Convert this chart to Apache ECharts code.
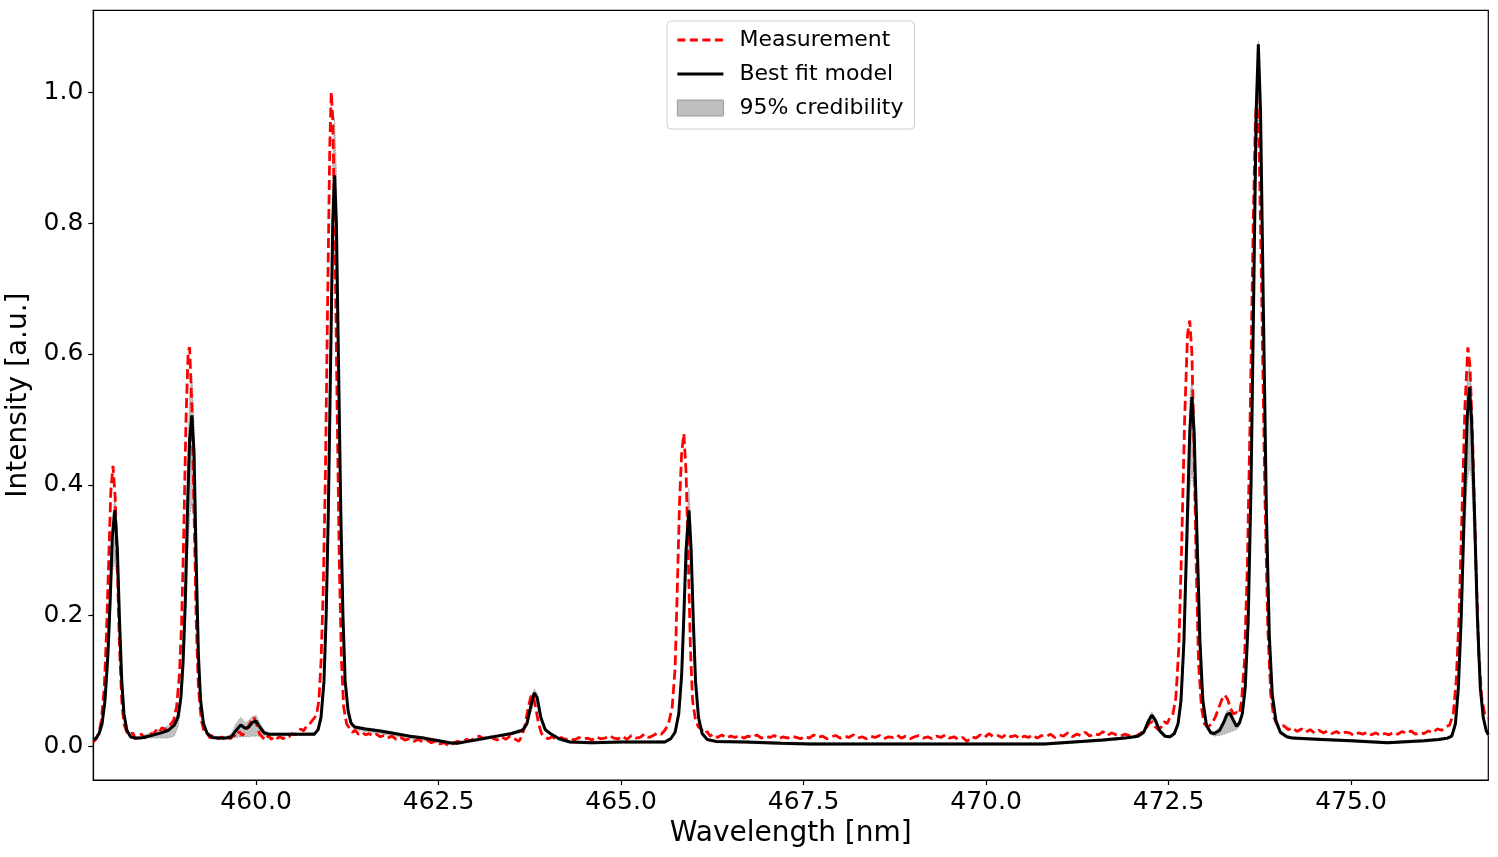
<!DOCTYPE html>
<html><head><meta charset="utf-8">
<script src="https://cdn.jsdelivr.net/npm/echarts@6.0.0/dist/echarts.min.js"></script>
<style>html,body{margin:0;padding:0;background:#fff}#chart{width:1498px;height:857px}</style>
</head><body><div id="chart"></div>
<script>
// ---- tick labels ----
const xTicks = [460.0, 462.5, 465.0, 467.5, 470.0, 472.5, 475.0];
const yTicks = [0.0, 0.2, 0.4, 0.6, 0.8, 1.0];
const seriesNames = ['Measurement', 'Best fit model', '95% credibility'];

// ---- best fit model + 95% credibility band (same wavelength grid) ----
const modelX = [
457.77,457.81,457.85,457.89,457.93,457.97,458.00,458.03,458.065,458.10,458.13,458.16,458.19,458.23,458.28,458.34,
458.42,458.50,458.60,458.70,458.80,458.88,458.93,458.97,459.00,459.03,459.06,459.09,459.12,459.15,459.18,459.21,459.24,459.28,459.33,459.40,
459.48,459.58,459.66,459.72,459.79,459.85,459.90,459.95,460.00,460.05,460.11,460.18,460.40,460.60,460.80,
460.85,460.89,460.93,460.96,460.99,461.02,461.05,461.075,461.10,461.13,461.16,461.19,461.22,461.26,461.30,461.35,
461.50,461.70,461.90,462.10,462.30,462.50,462.65,462.75,462.90,463.10,463.30,463.50,463.65,
463.71,463.76,463.81,463.85,463.90,463.96,464.03,464.15,464.30,464.60,465.00,465.40,465.60,
465.68,465.74,465.79,465.83,465.86,465.89,465.93,465.96,465.99,466.02,466.06,466.11,466.18,466.30,
466.70,467.20,467.60,468.50,469.50,470.40,470.80,471.20,471.60,471.90,
472.08,472.16,472.22,472.27,472.32,472.38,472.45,472.52,472.58,472.63,472.67,
472.71,472.75,472.79,472.82,472.85,472.89,472.93,472.97,473.02,473.08,473.13,
473.20,473.26,473.30,473.34,473.38,473.43,473.47,473.51,473.55,473.59,473.63,473.67,473.70,473.73,473.76,473.80,473.84,473.88,473.92,473.97,
474.03,474.12,474.20,474.60,475.00,475.50,476.00,476.20,476.32,476.38,
476.43,476.47,476.51,476.55,476.59,476.62,476.65,476.69,476.73,476.77,476.81,476.85,476.88
];
const bestFit = [
0.010,0.013,0.020,0.035,0.070,0.140,0.220,0.320,0.361,0.300,0.190,0.100,0.050,0.025,0.015,0.013,
0.013,0.015,0.018,0.021,0.025,0.033,0.045,0.075,0.130,0.220,0.360,0.470,0.506,0.450,0.280,0.140,0.070,0.035,0.020,0.014,
0.013,0.013,0.015,0.024,0.033,0.028,0.030,0.037,0.039,0.030,0.021,0.019,0.019,0.019,0.019,
0.026,0.045,0.100,0.200,0.360,0.580,0.800,0.873,0.800,0.580,0.360,0.200,0.100,0.055,0.036,0.030,
0.027,0.024,0.020,0.016,0.013,0.009,0.006,0.005,0.008,0.012,0.016,0.020,0.025,
0.035,0.060,0.082,0.075,0.045,0.026,0.020,0.012,0.007,0.006,0.007,0.007,0.007,
0.012,0.022,0.050,0.110,0.200,0.300,0.361,0.300,0.190,0.100,0.045,0.020,0.011,0.008,
0.007,0.005,0.004,0.004,0.004,0.004,0.004,0.007,0.010,0.013,
0.016,0.022,0.038,0.048,0.040,0.024,0.016,0.015,0.020,0.035,0.070,
0.160,0.320,0.480,0.534,0.480,0.320,0.160,0.070,0.032,0.021,0.020,
0.025,0.038,0.049,0.051,0.042,0.031,0.036,0.050,0.090,0.190,0.400,0.720,0.970,1.073,0.970,0.660,0.360,0.170,0.080,0.040,
0.022,0.015,0.013,0.011,0.009,0.006,0.009,0.011,0.013,0.016,
0.035,0.090,0.200,0.360,0.500,0.549,0.500,0.360,0.200,0.090,0.045,0.025,0.018
];
const bandLow = [
0.008,0.011,0.018,0.031,0.062,0.120,0.190,0.265,0.285,0.250,0.160,0.085,0.043,0.022,0.013,0.011,
0.012,0.013,0.013,0.013,0.013,0.016,0.030,0.060,0.100,0.170,0.280,0.350,0.372,0.340,0.230,0.120,0.060,0.030,0.017,0.012,
0.011,0.011,0.012,0.014,0.015,0.015,0.015,0.016,0.016,0.016,0.016,0.016,0.017,0.017,0.017,
0.023,0.040,0.090,0.180,0.320,0.510,0.700,0.760,0.700,0.510,0.320,0.180,0.090,0.050,0.032,0.026,
0.023,0.020,0.016,0.012,0.009,0.005,0.003,0.003,0.006,0.010,0.014,0.018,0.022,
0.030,0.050,0.068,0.064,0.040,0.023,0.018,0.010,0.005,0.004,0.005,0.005,0.005,
0.010,0.019,0.044,0.095,0.170,0.260,0.300,0.260,0.165,0.088,0.040,0.018,0.009,0.006,
0.005,0.003,0.002,0.002,0.002,0.002,0.002,0.005,0.008,0.011,
0.014,0.019,0.033,0.041,0.035,0.021,0.014,0.013,0.017,0.030,0.060,
0.130,0.260,0.390,0.420,0.390,0.260,0.130,0.060,0.028,0.018,0.016,
0.017,0.019,0.021,0.022,0.024,0.026,0.030,0.044,0.080,0.170,0.360,0.650,0.880,0.970,0.880,0.600,0.330,0.150,0.070,0.036,
0.019,0.013,0.011,0.009,0.007,0.004,0.007,0.009,0.011,0.014,
0.030,0.080,0.170,0.300,0.400,0.427,0.410,0.300,0.170,0.080,0.040,0.022,0.016
];
const bandHigh = [
0.012,0.015,0.023,0.040,0.078,0.155,0.240,0.350,0.381,0.330,0.210,0.110,0.056,0.028,0.017,0.015,
0.016,0.019,0.023,0.027,0.032,0.038,0.052,0.085,0.150,0.260,0.430,0.540,0.567,0.500,0.320,0.160,0.080,0.040,0.023,0.016,
0.015,0.015,0.019,0.034,0.045,0.036,0.040,0.046,0.048,0.036,0.025,0.021,0.021,0.021,0.022,
0.030,0.050,0.110,0.220,0.400,0.640,0.890,0.961,0.880,0.640,0.400,0.220,0.110,0.060,0.040,0.032,
0.029,0.026,0.022,0.018,0.015,0.011,0.008,0.007,0.010,0.014,0.018,0.022,0.028,
0.040,0.068,0.088,0.082,0.050,0.029,0.022,0.014,0.009,0.008,0.009,0.009,0.009,
0.014,0.025,0.056,0.125,0.225,0.330,0.395,0.330,0.210,0.110,0.050,0.022,0.013,0.010,
0.009,0.007,0.006,0.006,0.006,0.006,0.006,0.009,0.012,0.015,
0.018,0.025,0.043,0.053,0.045,0.027,0.018,0.017,0.023,0.040,0.080,
0.180,0.350,0.530,0.567,0.520,0.350,0.180,0.080,0.036,0.024,0.023,
0.029,0.044,0.055,0.056,0.048,0.035,0.040,0.055,0.100,0.210,0.430,0.760,1.000,1.078,1.000,0.700,0.390,0.185,0.088,0.044,
0.025,0.017,0.015,0.013,0.011,0.008,0.011,0.013,0.015,0.019,
0.040,0.100,0.220,0.400,0.560,0.580,0.550,0.390,0.220,0.100,0.050,0.028,0.020
];

// ---- measurement [wavelength, intensity] ----
const measurement = [
[457.77,0.007],[457.81,0.012],[457.85,0.022],[457.88,0.04],[457.92,0.09],[457.95,0.17],[457.98,0.28],[458.01,0.39],[458.04,0.429],[458.07,0.38],[458.10,0.27],[458.13,0.15],[458.16,0.07],[458.19,0.035],[458.23,0.022],[458.27,0.018],[458.31,0.021],[458.35,0.012],[458.39,0.017],[458.43,0.019],[458.47,0.013],[458.51,0.017],[458.55,0.021],[458.59,0.018],[458.63,0.025],[458.67,0.021],[458.71,0.029],[458.75,0.026],[458.79,0.031],[458.83,0.034],
[458.87,0.04],[458.91,0.06],[458.95,0.11],[458.98,0.19],[459.01,0.33],[459.04,0.5],[459.07,0.605],[459.09,0.61],[459.12,0.52],[459.15,0.36],[459.18,0.19],[459.21,0.09],[459.25,0.04],[459.29,0.022],[459.33,0.02],[459.37,0.013],[459.41,0.018],[459.45,0.016],[459.49,0.012],[459.53,0.015],[459.57,0.011],[459.61,0.014],[459.65,0.012],[459.69,0.018],[459.73,0.015],[459.77,0.023],[459.81,0.017],[459.85,0.022],[459.89,0.03],[459.93,0.038],[459.97,0.045],[460.01,0.033],[460.05,0.019],[460.09,0.014],[460.13,0.01],[460.17,0.017],[460.21,0.011],[460.25,0.016],[460.29,0.013],[460.33,0.015],[460.37,0.012],[460.41,0.016],[460.45,0.015],[460.49,0.02],[460.53,0.018],[460.57,0.022],[460.61,0.027],[460.65,0.024],[460.69,0.031],[460.73,0.034],[460.77,0.04],[460.80,0.044],
[460.83,0.05],[460.86,0.07],[460.89,0.13],[460.92,0.24],[460.95,0.42],[460.98,0.68],[461.01,0.92],[461.03,1.0],[461.05,0.96],[461.08,0.78],[461.11,0.52],[461.14,0.28],[461.17,0.13],[461.20,0.06],[461.24,0.035],[461.28,0.028],[461.32,0.022],[461.36,0.025],[461.40,0.019],[461.45,0.022],[461.50,0.018],[461.55,0.02],[461.60,0.016],[461.65,0.019],[461.70,0.015],[461.75,0.017],[461.80,0.013],[461.86,0.016],[461.92,0.011],[461.98,0.014],[462.04,0.01],[462.10,0.012],[462.16,0.008],[462.22,0.011],[462.28,0.007],[462.34,0.01],[462.40,0.006],[462.46,0.008],[462.52,0.004],[462.58,0.006],[462.64,0.001],[462.70,0.005],[462.76,0.008],[462.82,0.006],[462.88,0.011],[462.94,0.009],[463.00,0.014],[463.06,0.016],[463.12,0.012],[463.18,0.017],[463.24,0.013],[463.30,0.01],[463.36,0.015],[463.42,0.011],[463.48,0.016],[463.54,0.012],[463.60,0.008],[463.64,0.016],[463.68,0.03],[463.72,0.055],[463.76,0.075],[463.79,0.08],[463.83,0.06],[463.87,0.035],[463.91,0.02],[463.95,0.015],
[464.00,0.012],[464.06,0.015],[464.12,0.01],[464.18,0.014],[464.24,0.011],[464.30,0.013],[464.36,0.01],[464.42,0.014],[464.48,0.011],[464.54,0.013],[464.60,0.01],[464.66,0.015],[464.72,0.012],[464.78,0.013],[464.84,0.017],[464.90,0.013],[464.96,0.012],[465.02,0.016],[465.08,0.011],[465.14,0.017],[465.20,0.013],[465.26,0.014],[465.32,0.019],[465.38,0.014],[465.44,0.017],[465.50,0.021],[465.55,0.019],[465.60,0.025],[465.65,0.035],[465.70,0.06],[465.74,0.12],[465.77,0.24],[465.80,0.37],[465.83,0.45],[465.86,0.478],[465.89,0.42],[465.92,0.29],[465.95,0.15],[465.98,0.07],[466.02,0.04],[466.06,0.03],[466.10,0.027],[466.14,0.02],[466.18,0.023],[466.22,0.016],
[466.26,0.019],[466.32,0.014],[466.38,0.018],[466.44,0.013],[466.50,0.016],[466.56,0.014],[466.62,0.017],[466.68,0.013],[466.74,0.016],[466.80,0.014],[466.86,0.018],[466.92,0.013],[466.98,0.016],[467.04,0.014],[467.10,0.017],[467.16,0.012],[467.22,0.015],[467.28,0.013],[467.34,0.016],[467.40,0.014],[467.46,0.012],[467.52,0.016],[467.58,0.013],[467.64,0.018],[467.70,0.014],[467.76,0.016],[467.82,0.012],[467.88,0.015],[467.94,0.017],[468.00,0.013],[468.06,0.016],[468.12,0.014],[468.18,0.018],[468.24,0.013],[468.30,0.015],[468.36,0.012],[468.42,0.016],[468.48,0.014],[468.54,0.017],[468.60,0.012],[468.66,0.015],[468.72,0.014],[468.78,0.018],[468.84,0.013],[468.90,0.016],[468.96,0.012],[469.02,0.015],[469.08,0.017],[469.14,0.013],[469.20,0.015],[469.26,0.012],[469.32,0.016],[469.38,0.014],[469.44,0.018],[469.50,0.013],[469.56,0.015],[469.62,0.011],[469.68,0.014],[469.74,0.008],[469.80,0.015],[469.86,0.013],[469.92,0.018],[469.98,0.014],
[470.04,0.02],[470.10,0.015],[470.16,0.017],[470.22,0.014],[470.28,0.019],[470.34,0.015],[470.40,0.017],[470.46,0.012],[470.52,0.016],[470.58,0.014],[470.64,0.018],[470.70,0.013],[470.76,0.017],[470.82,0.015],[470.88,0.019],[470.94,0.014],[471.00,0.018],[471.06,0.016],[471.12,0.021],[471.18,0.015],[471.24,0.019],[471.30,0.017],[471.36,0.022],[471.42,0.016],[471.48,0.02],[471.54,0.018],[471.60,0.023],[471.66,0.017],[471.72,0.021],[471.78,0.018],[471.84,0.016],[471.90,0.019],[471.96,0.017],[472.02,0.014],[472.08,0.018],[472.14,0.022],[472.19,0.028],[472.24,0.036],[472.28,0.038],[472.32,0.03],[472.36,0.026],[472.40,0.03],[472.44,0.038],[472.48,0.035],[472.52,0.045],[472.56,0.05],
[472.60,0.075],[472.64,0.15],[472.68,0.31],[472.72,0.5],[472.76,0.63],[472.79,0.651],[472.82,0.6],[472.85,0.45],[472.88,0.27],[472.91,0.13],[472.95,0.06],[472.99,0.035],[473.04,0.03],[473.09,0.035],[473.14,0.045],[473.19,0.06],[473.23,0.072],[473.27,0.079],[473.31,0.072],[473.35,0.058],[473.39,0.05],[473.43,0.052],[473.47,0.05],[473.50,0.07],[473.54,0.13],[473.58,0.28],[473.62,0.52],[473.66,0.8],[473.69,0.96],[473.71,0.99],[473.74,0.92],[473.78,0.66],[473.82,0.38],[473.86,0.18],[473.90,0.08],[473.94,0.045],[473.98,0.035],
[474.02,0.03],[474.08,0.032],[474.14,0.026],[474.20,0.029],[474.26,0.023],[474.32,0.027],[474.38,0.022],[474.44,0.026],[474.50,0.021],[474.56,0.025],[474.62,0.021],[474.68,0.024],[474.74,0.02],[474.80,0.023],[474.86,0.019],[474.92,0.022],[474.98,0.021],[475.04,0.017],[475.10,0.021],[475.16,0.019],[475.22,0.022],[475.28,0.018],[475.34,0.021],[475.40,0.017],[475.46,0.02],[475.52,0.018],[475.58,0.022],[475.64,0.019],[475.70,0.023],[475.76,0.02],[475.82,0.024],[475.88,0.019],[475.94,0.021],[476.00,0.02],[476.06,0.024],[476.12,0.021],[476.18,0.027],[476.24,0.025],[476.30,0.03],[476.35,0.033],
[476.40,0.05],[476.44,0.1],[476.48,0.2],[476.52,0.36],[476.56,0.52],[476.60,0.61],[476.63,0.58],[476.67,0.45],[476.71,0.28],[476.75,0.14],[476.79,0.075],[476.83,0.05],[476.88,0.043]
];

const FONT = 'DejaVu Sans';
const chart = echarts.init(document.getElementById('chart'));
const modelData = modelX.map((x, i) => [x, bestFit[i]]);
const noSymbol = { color: 'rgba(0,0,0,0)', borderWidth: 0, opacity: 0 };

const option = {
  animation: false,
  backgroundColor: '#fff',
  grid: { left: 93.3, right: 9.7, top: 10.3, bottom: 77, show: true, borderColor: '#000', borderWidth: 1.2, backgroundColor: 'transparent', containLabel: false, outerBoundsMode: 'none' },
  legend: {
    orient: 'vertical', left: 667, top: 21,
    padding: [7, 11, 9, 9], itemGap: 10, itemWidth: 46, itemHeight: 16,
    backgroundColor: '#fff', borderColor: '#d0d0d0', borderWidth: 1, borderRadius: 4,
    textStyle: { fontFamily: FONT, fontSize: 22, color: '#000', lineHeight: 24, padding: [0, 0, 0, 11] },
    data: [
      { name: seriesNames[0], itemStyle: noSymbol, lineStyle: { width: 2.8, type: [8, 4.5], color: '#ff0000' } },
      { name: seriesNames[1], itemStyle: noSymbol, lineStyle: { width: 2.8, color: '#000' } },
      { name: seriesNames[2], icon: 'rect', itemStyle: { color: '#bfbfbf', borderColor: '#9a9a9a', borderWidth: 1 } }
    ]
  },
  xAxis: {
    type: 'value', min: 457.77, max: 476.88,
    name: 'Wavelength [nm]', nameLocation: 'middle', nameGap: 39,
    nameTextStyle: { fontFamily: FONT, fontSize: 28, color: '#000' },
    axisLine: { show: true, onZero: false, lineStyle: { color: '#000', width: 1.2 } },
    axisTick: { show: true, inside: false, length: 5, lineStyle: { color: '#000', width: 1.2 }, customValues: xTicks },
    axisLabel: { fontFamily: FONT, fontSize: 25, color: '#000', margin: 10, customValues: xTicks, formatter: v => v.toFixed(1) },
    splitLine: { show: false }
  },
  yAxis: {
    type: 'value', min: -0.051, max: 1.125,
    name: 'Intensity [a.u.]', nameLocation: 'middle', nameGap: 55,
    nameTextStyle: { fontFamily: FONT, fontSize: 28, color: '#000' },
    axisLine: { show: true, onZero: false, lineStyle: { color: '#000', width: 1.2 } },
    axisTick: { show: true, inside: false, length: 5, lineStyle: { color: '#000', width: 1.2 }, customValues: yTicks },
    axisLabel: { fontFamily: FONT, fontSize: 25, color: '#000', margin: 10, customValues: yTicks, formatter: v => v.toFixed(1) },
    splitLine: { show: false }
  },
  series: [
    {
      name: seriesNames[2], type: 'custom', coordinateSystem: 'cartesian2d',
      itemStyle: { color: '#bfbfbf', borderColor: '#9a9a9a' },
      data: [[modelX[0], bandLow[0]]],
      encode: { x: 0, y: 1 },
      renderItem: function (params, api) {
        const pts = [];
        for (let i = 0; i < modelX.length; i++) pts.push(api.coord([modelX[i], bandHigh[i]]));
        for (let i = modelX.length - 1; i >= 0; i--) pts.push(api.coord([modelX[i], bandLow[i]]));
        return { type: 'polygon', shape: { points: pts }, style: { fill: '#c0c0c0', stroke: 'rgba(110,110,110,0.7)', lineWidth: 0.8, lineDash: [1.5, 1.5] } };
      },
      z: 1
    },
    {
      name: seriesNames[0], type: 'line', data: measurement, showSymbol: false, symbol: 'none',
      lineStyle: { color: '#ff0000', width: 2.8, type: [10, 4.5] }, itemStyle: { color: '#ff0000' }, z: 2
    },
    {
      name: seriesNames[1], type: 'line', data: modelData, showSymbol: false, symbol: 'none',
      lineStyle: { color: '#000', width: 3 }, itemStyle: { color: '#000' }, z: 3
    }
  ]
};
chart.setOption(option);
</script>
</body></html>
